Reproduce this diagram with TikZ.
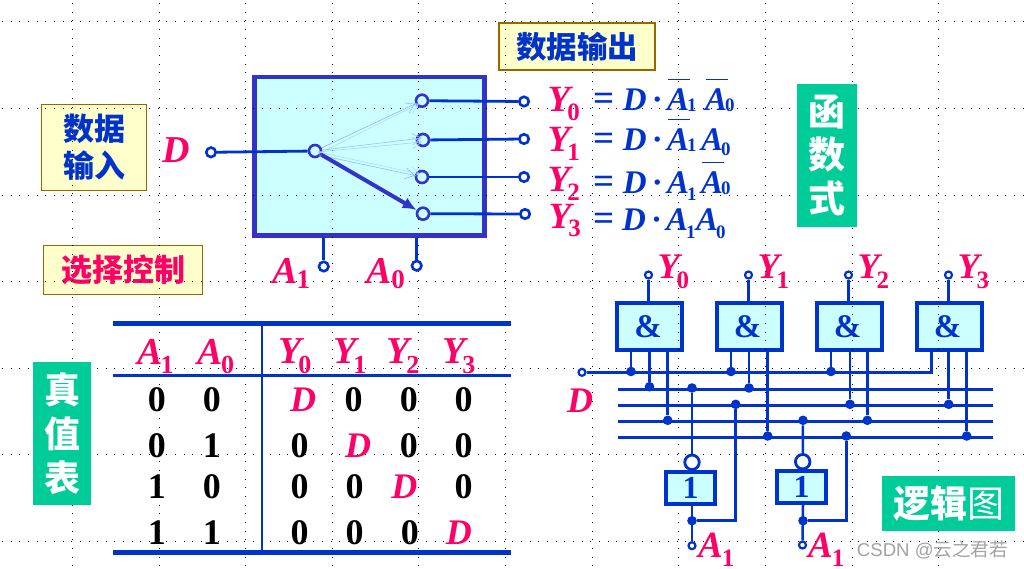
\documentclass[tikz,border=0pt]{standalone}
\usepackage{fontspec}
\setmainfont{Liberation Serif}
\newfontfamily\cjk{Noto Sans CJK SC}
\newfontfamily\wm{Liberation Sans}
\usetikzlibrary{arrows.meta,calc}
\definecolor{wire}{HTML}{0033CC}
\definecolor{violet}{HTML}{3333CC}
\definecolor{pinkred}{HTML}{FF0066}
\definecolor{cyanfill}{HTML}{CCFFFF}
\definecolor{yel}{HTML}{FFFFCC}
\definecolor{brownb}{HTML}{996600}
\definecolor{teal2}{HTML}{00CC99}
\newcommand\Sy[6]{{\fontsize{#3}{#3}\selectfont\bfseries\itshape #1}\kern#6\raisebox{-#5}{\fontsize{#4}{#4}\selectfont\bfseries\upshape #2}}
\newcommand\OvB[1]{\rlap{\raisebox{31.5pt}{\kern.5pt\rule{#1}{0.9pt}}}}
\newcommand\EqL[7]{% D-pos, Apos, subdrop1, A0 pos, bar1, bar0, subdrop0
\fontsize{33}{33}\selectfont\bfseries
\rlap{\fontsize{37}{37}\selectfont =}\kern#1\rlap{\itshape D}\kern29pt\rlap{·}\kern#2%
\rlap{#5\Sy{A}{1}{33pt}{19pt}{#3}{-2pt}}\kern#4\rlap{#6\Sy{A}{0}{33pt}{19pt}{#7}{-2pt}}}
\tikzset{
 wirel/.style={draw=wire,line width=2.8pt},
 thin wire/.style={draw=wire,line width=2.5pt},
 muxbox/.style={rectangle,draw=violet,fill=cyanfill,line width=4.6pt,inner sep=0pt,minimum width=230pt,minimum height=158.5pt},
 andgate/.style={rectangle,draw=wire,fill=cyanfill,line width=4pt,inner sep=0pt,minimum width=65pt,minimum height=46.7pt,text=wire,font=\fontsize{33}{33}\selectfont\bfseries},
 notgate/.style={rectangle,draw=wire,fill=cyanfill,line width=4pt,inner sep=0pt,minimum width=49pt,minimum height=32pt,text=wire,font=\fontsize{32}{32}\selectfont\bfseries},
 hubc/.style={circle,draw=violet,fill=cyanfill,line width=2.6pt,inner sep=0pt,minimum size=12pt},
 term/.style={circle,draw=wire,fill=white,line width=2.6pt,inner sep=0pt,minimum size=9.5pt},
 smallterm/.style={circle,draw=wire,fill=white,line width=2.2pt,inner sep=0pt,minimum size=7pt},
 bubble/.style={circle,draw=wire,fill=white,line width=2.8pt,inner sep=0pt,minimum size=14.5pt},
 jdot/.style={circle,fill=wire,inner sep=0pt,minimum size=9.6pt},
 yellowbox/.style={rectangle,draw=brownb,fill=yel,line width=1pt,inner sep=0pt,align=center},
 greenbox/.style={rectangle,fill=teal2,text=white,inner sep=0pt,align=center},
 lab/.style={inner sep=0pt,anchor=base west,text=pinkred},
 eqn/.style={inner sep=0pt,anchor=base west,text=wire},
 cell/.style={inner sep=0pt,anchor=base,font=\fontsize{36}{36}\selectfont\bfseries},
 dcell/.style={inner sep=0pt,anchor=base,text=pinkred,font=\fontsize{36}{36}\selectfont\bfseries\itshape},
 faint/.style={line width=.6pt,-{Straight Barb[length=9pt,width=11pt]}},
 griddots/.style={line width=.9pt,black,dash pattern=on .9pt off 7.75pt},
}
\begin{document}
\begin{tikzpicture}[x=1pt,y=-1pt]
\useasboundingbox (0,0) rectangle (1024,569);
\fill[white] (0,0) rectangle (1024,569);
% shapes under the dotted grid
\node[muxbox] (mux) at (369.5,156.2) {};
\node[andgate] (g0) at (649.5,326.3) {\&\kern3pt};
\node[andgate] (g1) at (749,326.3) {\&\kern3pt};
\node[andgate] (g2) at (849,326.3) {\&\kern3pt};
\node[andgate] (g3) at (949,326.3) {\&\kern3pt};
\node[yellowbox,minimum width=105.7pt,minimum height=86.7pt,text=wire,font=\cjk\bfseries\fontsize{31}{37}\selectfont] (ti) at (94,147.4) {数据\\输入};
\node[yellowbox,minimum width=159pt,minimum height=49.7pt,text=pinkred,font=\cjk\bfseries\fontsize{31}{31}\selectfont] (ts) at (123,270) {选择控制};
\node[yellowbox,line width=2.5pt,minimum width=156pt,minimum height=47pt,text=wire,font=\cjk\bfseries\fontsize{30.5}{30.5}\selectfont] (to) at (577,46.5) {数据输出};
% dotted grid
\foreach \yy in {21,108,195,281,368,454,541} \draw[griddots] (2,\yy) -- (1024,\yy);
\foreach \xx in {72.7,159.4,245.5,332,418.7,505.5,592,678,765,852,938} \draw[griddots] (\xx,3) -- (\xx,569);
% green labels
\node[greenbox,minimum width=60pt,minimum height=142.7pt,font=\cjk\bfseries\fontsize{37}{43.5}\selectfont] (fx) at (826.5,155.3) {函\\数\\式};
\node[greenbox,minimum width=58pt,minimum height=142.7pt,font=\cjk\bfseries\fontsize{36}{44}\selectfont] (tt) at (62.4,433.3) {真\\值\\表};
\node[greenbox,minimum width=133pt,minimum height=54.7pt,font=\cjk\bfseries\fontsize{37}{37}\selectfont] (lg) at (948.5,503.3) {逻辑{\mdseries 图}};
% multiplexer
\node[hubc] (hub) at (315,151) {};
\node[hubc] (o0) at (422,100.7) {};
\node[hubc] (o1) at (423,140) {};
\node[hubc] (o2) at (422,177) {};
\node[hubc] (o3) at (423,213.7) {};
\node[term] (t0) at (524,101.5) {};
\node[term] (t1) at (524,139) {};
\node[term] (t2) at (524,177) {};
\node[term] (t3) at (525,214) {};
\node[term] (tD) at (211,152.3) {};
\node[term] (tA1) at (323.7,266.5) {};
\node[term] (tA0) at (416.7,265.7) {};
\draw[wirel] (tD) -- (hub);
\foreach \i in {0,1,2,3} \draw[wirel] (o\i) -- (t\i);
\draw[wirel] (tA1 |- mux.south) -- (tA1);
\draw[wirel] (tA0 |- mux.south) -- (tA0);
\draw[faint,draw=blue!30!cyanfill] (hub) -- (o0);
\draw[faint,draw=blue!14!cyanfill] ($(hub)+(3,3)$) -- ($(o0)+(-3,3)$);
\draw[faint,draw=blue!25!cyanfill] (hub) -- ($(o1)+(-1,-2)$);
\draw[faint,draw=blue!18!cyanfill] ($(hub)+(3,1)$) -- ($(o1)+(-1,2)$);
\draw[faint,draw=blue!14!cyanfill] ($(hub)+(3,1)$) -- ($(o2)+(-2,-3)$);
\draw[faint,draw=blue!28!cyanfill] ($(hub)+(4,4)$) -- (o2);
\draw[violet,line width=4pt,-{Latex[length=14pt,width=12pt]}] (hub) -- (o3);
\node[lab,font=\fontsize{38}{38}\selectfont\bfseries\itshape] (lD) at (162,163) {D};
\node[lab] (lA1) at (272,283) {\Sy{A}{1}{38pt}{27pt}{5.5pt}{-1pt}};
\node[lab] (lA0) at (366.7,283) {\Sy{A}{0}{38pt}{27pt}{5.5pt}{-1pt}};
% equations
\node[lab] (y0) at (547.5,112) {\Sy{Y}{0}{37pt}{25pt}{8.5pt}{-3pt}};
\node[lab] (y1) at (547.5,152) {\Sy{Y}{1}{37pt}{25pt}{8.5pt}{-3pt}};
\node[lab] (y2) at (547.5,192) {\Sy{Y}{2}{37pt}{25pt}{8.5pt}{-3pt}};
\node[lab] (y3) at (548.5,228.5) {\Sy{Y}{3}{37pt}{25pt}{8.5pt}{-3pt}};
\node[eqn] (e0) at (593,111) {\EqL{29.7pt}{15.3pt}{1pt}{38pt}{\OvB{22pt}}{\OvB{22pt}}{1pt}};
\node[eqn] (e1) at (593,151) {\EqL{29.7pt}{15.3pt}{1pt}{34pt}{\OvB{22pt}}{}{5pt}};
\node[eqn] (e2) at (593,194) {\EqL{29.7pt}{15.3pt}{7pt}{34pt}{}{\OvB{22pt}}{1pt}};
\node[eqn] (e3) at (593,230) {\EqL{29pt}{15pt}{9pt}{30pt}{}{}{9pt}};
% truth table
\coordinate (hl) at (113,323.3); \coordinate (hr) at (511,323.3);
\coordinate (ml) at (113,375.3); \coordinate (mr) at (511,375.3);
\coordinate (bl) at (113,552.3); \coordinate (br) at (511,552.3);
\coordinate (vt) at (261.8,323.3); \coordinate (vb) at (261.8,552.3);
\draw[wire,line width=4.5pt] (hl) -- (hr);
\draw[wire,line width=2.5pt] (ml) -- (mr);
\draw[wire,line width=4.5pt] (bl) -- (br);
\draw[wire,line width=2pt] (vt) -- (vb);
\node[lab] (ha1) at (137,364) {\Sy{A}{1}{38pt}{26pt}{9pt}{-2pt}};
\node[lab] (ha0) at (197.6,364) {\Sy{A}{0}{38pt}{26pt}{9pt}{-2pt}};
\node[lab] (hy0) at (278,363) {\Sy{Y}{0}{38pt}{26pt}{10pt}{-3pt}};
\node[lab] (hy1) at (333,363) {\Sy{Y}{1}{38pt}{26pt}{10pt}{-3pt}};
\node[lab] (hy2) at (386,363) {\Sy{Y}{2}{38pt}{26pt}{10pt}{-3pt}};
\node[lab] (hy3) at (442,363) {\Sy{Y}{3}{38pt}{26pt}{10pt}{-3pt}};
\node[cell] (c00) at (156.8,411.7) {0};
\node[cell] (c01) at (211.8,411.7) {0};
\node[dcell] (c02) at (303,411.7) {D};
\node[cell] (c03) at (353.7,411.7) {0};
\node[cell] (c04) at (408.8,411.7) {0};
\node[cell] (c05) at (463.5,411.7) {0};
\node[cell] (c10) at (156.8,457) {0};
\node[cell] (c11) at (211.8,457) {1};
\node[cell] (c12) at (299.7,457) {0};
\node[dcell] (c13) at (358,457) {D};
\node[cell] (c14) at (408.8,457) {0};
\node[cell] (c15) at (463.5,457) {0};
\node[cell] (c20) at (156.8,498) {1};
\node[cell] (c21) at (211.8,498) {0};
\node[cell] (c22) at (299.7,498) {0};
\node[cell] (c23) at (354.7,498) {0};
\node[dcell] (c24) at (404.4,498) {D};
\node[cell] (c25) at (463.5,498) {0};
\node[cell] (c30) at (156.8,544) {1};
\node[cell] (c31) at (211.8,544) {1};
\node[cell] (c32) at (299.7,544) {0};
\node[cell] (c33) at (354.7,544) {0};
\node[cell] (c34) at (409.8,544) {0};
\node[dcell] (c35) at (458.8,544) {D};
% logic diagram: rails
\node[smallterm] (dt) at (582,372.3) {};
\coordinate (r1l) at (618,389.3); \coordinate (r1r) at (992.7,389.3);
\coordinate (r2l) at (618,405.3); \coordinate (r2r) at (992.7,405.3);
\coordinate (r3l) at (618,421.3); \coordinate (r3r) at (992.7,421.3);
\coordinate (r4l) at (618,437.3); \coordinate (r4r) at (992.7,437.3);
\foreach \i in {1,2,3,4} \draw[thin wire] (r\i l) -- (r\i r);
\node[jdot] (d0) at (631,371.5) {};
\node[jdot] (d1) at (731,371.5) {};
\node[jdot] (d2) at (831,371.5) {};
\coordinate (d3) at (931.7,372.3);
\draw[thin wire] (dt) -- (d3) -- (d3 |- g3.south);
\node[jdot] (a0) at (649.5,386.7) {};
\node[jdot] (n1) at (692,388) {};
\node[jdot] (a1) at (749,388) {};
\node[jdot] (b1) at (735.7,404.3) {};
\node[jdot] (a2) at (850,404.3) {};
\node[jdot] (a3) at (948.7,404.3) {};
\node[jdot] (b0) at (667.7,420.3) {};
\node[jdot] (n0) at (803,420.3) {};
\node[jdot] (b2) at (867.3,420.3) {};
\node[jdot] (c1) at (767.7,436) {};
\node[jdot] (c0) at (846.3,436) {};
\node[jdot] (c3) at (966.7,436) {};
\foreach \d/\g in {d0/g0,d1/g1,d2/g2,a0/g0,a1/g1,a2/g2,a3/g3,b0/g0,b2/g2,c1/g1,c3/g3}
  \draw[thin wire] (\d) -- (\d |- \g.south);
% and-gate outputs
\node[smallterm] (q0) at (648.5,275) {};
\node[smallterm] (q1) at (748.5,275) {};
\node[smallterm] (q2) at (848.5,275) {};
\node[smallterm] (q3) at (948.5,275) {};
\foreach \i in {0,1,2,3} \draw[thin wire] (q\i) -- (q\i |- g\i.north);
\node[lab] (ly0) at (657.5,278) {\Sy{Y}{0}{36pt}{25pt}{10pt}{-3pt}};
\node[lab] (ly1) at (757.5,278) {\Sy{Y}{1}{36pt}{25pt}{10pt}{-3pt}};
\node[lab] (ly2) at (857.5,278) {\Sy{Y}{2}{36pt}{25pt}{10pt}{-3pt}};
\node[lab] (ly3) at (957.5,278) {\Sy{Y}{3}{36pt}{25pt}{10pt}{-3pt}};
% inverters
\node[notgate] (i0) at (690.5,488) {1};
\node[notgate] (i1) at (801.5,487) {1};
\node[bubble] (bb0) at (692,462.3) {};
\node[bubble] (bb1) at (802.7,461.7) {};
\draw[thin wire] (n1) -- (bb0);
\draw[thin wire] (n0) -- (bb1);
\node[smallterm] (ia0) at (692,545.7) {};
\node[smallterm] (ia1) at (802.5,545) {};
\node[jdot] (j0) at (692,520.7) {};
\node[jdot] (j1) at (803,520.7) {};
\draw[thin wire] (ia0) -- (j0 |- i0.south);
\draw[thin wire] (ia1) -- (j1 |- i1.south);
\draw[thin wire] (j0) -- (j0 -| b1) -- (b1);
\draw[thin wire] (j1) -- (j1 -| c0) -- (c0);
\node[lab] (la0) at (698,557.5) {\Sy{A}{1}{37pt}{25pt}{9pt}{-1pt}};
\node[lab] (la1) at (808,557) {\Sy{A}{1}{37pt}{25pt}{9pt}{-1pt}};
\node[lab,font=\fontsize{36}{36}\selectfont\bfseries\itshape] (lD2) at (567,412.7) {D};
% watermark
\node[inner sep=0pt,text=black!36,font=\fontsize{18.6}{18.6}\selectfont] (wmk) at (932.5,550) {\wm CSDN @\cjk 云之君若};
\end{tikzpicture}
\end{document}
